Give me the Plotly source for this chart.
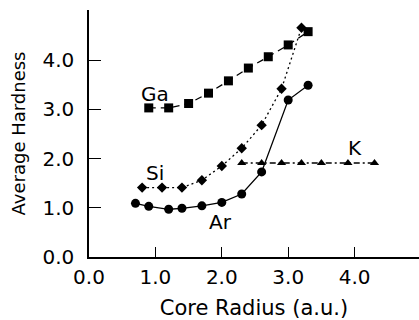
import plotly.graph_objects as go

ga_x = [0.9, 1.2, 1.5, 1.8, 2.1, 2.4, 2.7, 3.0, 3.3]
ga_y = [3.03, 3.03, 3.12, 3.33, 3.58, 3.84, 4.07, 4.31, 4.58]
si_x = [0.8, 1.1, 1.4, 1.7, 2.0, 2.3, 2.6, 2.9, 3.2]
si_y = [1.41, 1.41, 1.41, 1.56, 1.85, 2.21, 2.68, 3.42, 4.66]
ar_x = [0.7, 0.9, 1.2, 1.4, 1.7, 2.0, 2.3, 2.6, 3.0, 3.3]
ar_y = [1.09, 1.03, 0.97, 0.99, 1.04, 1.11, 1.28, 1.73, 3.19, 3.49]
k_x = [2.3, 2.6, 2.9, 3.2, 3.5, 3.9, 4.3]
k_y = [1.91, 1.91, 1.91, 1.91, 1.91, 1.91, 1.91]

tick_vals = [0, 1, 2, 3, 4]
tick_text = ["0.0", "1.0", "2.0", "3.0", "4.0"]

FONT = "DejaVu Sans, Liberation Sans, Arial, sans-serif"

fig = go.Figure()
fig.add_trace(go.Scatter(x=ga_x, y=ga_y, mode="lines+markers",
                         line=dict(color="black", width=1.3, dash="7px,5px"),
                         marker=dict(symbol="square", size=9, color="black")))
fig.add_trace(go.Scatter(x=si_x, y=si_y, mode="lines+markers",
                         line=dict(color="black", width=1.3, dash="2px,3px"),
                         marker=dict(symbol="diamond", size=8, color="black")))
fig.add_trace(go.Scatter(x=ar_x, y=ar_y, mode="lines+markers",
                         line=dict(color="black", width=1.3),
                         marker=dict(symbol="circle", size=9, color="black")))
fig.add_trace(go.Scatter(x=k_x, y=k_y, mode="lines+markers",
                         line=dict(color="black", width=1.3, dash="6px,3px,2px,3px"),
                         marker=dict(symbol="triangle-up", size=8, color="black")))

labels = [("Ga", 1.0, 3.31), ("Si", 1.0, 1.71), ("Ar", 1.98, 0.72), ("K", 4.0, 2.22)]
for t, x, y in labels:
    fig.add_annotation(x=x, y=y, xref="x", yref="y", text=t, showarrow=False,
                       font=dict(size=20, color="black", family=FONT))

fig.update_layout(
    width=419, height=320,
    margin=dict(l=89, r=0, t=10, b=63),
    paper_bgcolor="white", plot_bgcolor="white",
    showlegend=False,
    font=dict(family=FONT, color="black"),
)
fig.update_xaxes(range=[0, 4.97], tickvals=tick_vals, ticktext=tick_text,
                 ticks="inside", ticklen=10, tickwidth=1.3, tickcolor="black",
                 showline=True, linecolor="black", linewidth=1.5,
                 showgrid=False, zeroline=False, automargin=False,
                 tickfont=dict(size=20), ticklabelstandoff=1,
                 title=dict(text="Core Radius (a.u.)", font=dict(size=21), standoff=16))
fig.update_yaxes(range=[0, 5.02], tickvals=tick_vals, ticktext=tick_text,
                 ticks="inside", ticklen=12, tickwidth=1.3, tickcolor="black",
                 showline=True, linecolor="black", linewidth=1.5,
                 showgrid=False, zeroline=False, automargin=False,
                 tickfont=dict(size=20), ticklabelstandoff=9,
                 title=dict(text="Average Hardness", font=dict(size=18), standoff=12))

fig.write_html("out.html", config={"displayModeBar": False},
               post_script="document.body.style.margin='0';document.body.style.overflow='hidden';")
